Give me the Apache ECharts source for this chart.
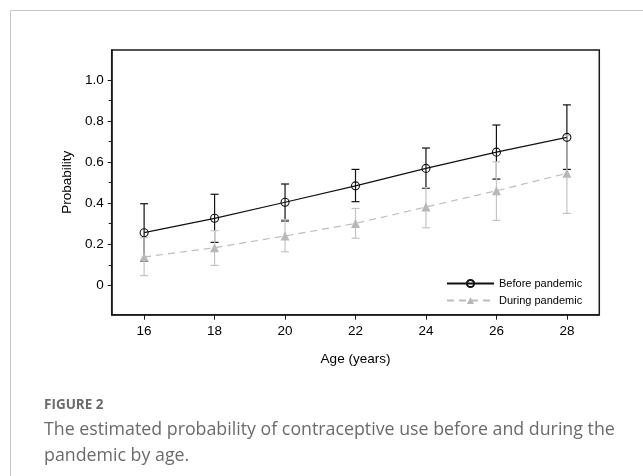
<!DOCTYPE html>
<html>
<head>
<meta charset="utf-8">
<script src="https://cdn.jsdelivr.net/npm/echarts@6/dist/echarts.min.js"></script>
<style>
html,body{margin:0;padding:0;background:#fff;}
#chart{width:643px;height:476px;}
</style>
</head>
<body>
<div id="chart"></div>
<script>
const ages = [16, 18, 20, 22, 24, 26, 28];
const beforeMean = [0.256, 0.326, 0.404, 0.484, 0.569, 0.648, 0.720];
const beforeLow  = [0.118, 0.209, 0.313, 0.407, 0.472, 0.517, 0.564];
const beforeHigh = [0.397, 0.443, 0.493, 0.564, 0.668, 0.780, 0.878];
const duringMean = [0.138, 0.183, 0.240, 0.301, 0.381, 0.460, 0.545];
const duringLow  = [0.047, 0.097, 0.163, 0.229, 0.280, 0.316, 0.350];
const duringHigh = [0.232, 0.266, 0.320, 0.374, 0.475, 0.601, 0.730];
const xTicks = [16, 18, 20, 22, 24, 26, 28];
const yTicks = [0, 0.2, 0.4, 0.6, 0.8, 1.0];
const yMinorTicks = [0.1, 0.3, 0.5, 0.7, 0.9];
const seriesNames = ['Before pandemic', 'During pandemic'];
const captionLabel = 'FIGURE 2';
const captionLines = ['The estimated probability of contraceptive use before and during the', 'pandemic by age.'];

const FONT = 'Liberation Sans, Arial, sans-serif';
const chart = echarts.init(document.getElementById('chart'), null, {renderer: 'canvas'});

function errData(low, high) {
  return ages.map((a, i) => [a, low[i], high[i]]);
}
function errRender(color) {
  return function (params, api) {
    const x = api.value(0);
    const p1 = api.coord([x, api.value(1)]);
    const p2 = api.coord([x, api.value(2)]);
    const hw = 4;
    const st = {stroke: color, lineWidth: 1.2};
    return {
      type: 'group',
      children: [
        {type: 'line', shape: {x1: p1[0], y1: p1[1], x2: p2[0], y2: p2[1]}, style: st},
        {type: 'line', shape: {x1: p1[0] - hw, y1: p1[1], x2: p1[0] + hw, y2: p1[1]}, style: st},
        {type: 'line', shape: {x1: p2[0] - hw, y1: p2[1], x2: p2[0] + hw, y2: p2[1]}, style: st}
      ]
    };
  };
}

const option = {
  animation: false,
  backgroundColor: '#fff',
  grid: {
    left: 111.7, top: 50, right: 43.7, bottom: 161.3,
    show: true, borderColor: '#1a1a1a', borderWidth: 1.5, backgroundColor: 'transparent'
  },
  xAxis: {
    type: 'value', min: 15.08, max: 28.92,
    name: 'Age (years)', nameLocation: 'middle', nameGap: 38,
    nameTextStyle: {fontFamily: FONT, fontSize: 13.5, color: '#000'},
    axisLine: {show: true, onZero: false, lineStyle: {color: '#1a1a1a', width: 1.5}},
    axisTick: {show: true, length: 5, customValues: xTicks, lineStyle: {color: '#1a1a1a'}},
    axisLabel: {customValues: xTicks, fontFamily: FONT, fontSize: 13.5, color: '#000', margin: 10},
    splitLine: {show: false}
  },
  yAxis: [{
    type: 'value', min: -0.143, max: 1.145,
    name: 'Probability', nameLocation: 'middle', nameGap: 31, nameRotate: 90,
    nameTextStyle: {fontFamily: FONT, fontSize: 13.5, color: '#000'},
    axisLine: {show: true, onZero: false, lineStyle: {color: '#1a1a1a', width: 1.5}},
    axisTick: {show: true, length: 4, customValues: yTicks, lineStyle: {color: '#1a1a1a'}},
    axisLabel: {
      customValues: yTicks, fontFamily: FONT, fontSize: 13.5, color: '#000', margin: 8,
      formatter: v => (Math.abs(v) < 1e-9 ? '0' : v.toFixed(1))
    },
    splitLine: {show: false}
  }, {
    type: 'value', min: -0.143, max: 1.145, position: 'left',
    axisLine: {show: false, onZero: false},
    axisTick: {show: true, length: 3, customValues: yMinorTicks, lineStyle: {color: '#1a1a1a'}},
    axisLabel: {show: false},
    splitLine: {show: false}
  }],
  legend: {
    data: seriesNames,
    orient: 'vertical', left: 441, top: 273,
    itemWidth: 47, itemHeight: 9, itemGap: 6,
    textStyle: {fontFamily: FONT, fontSize: 11, color: '#000'}
  },
  series: [
    {
      name: 'beforeErr', type: 'custom', z: 1,
      renderItem: errRender('#111'),
      data: errData(beforeLow, beforeHigh), encode: {x: 0, y: [1, 2]}
    },
    {
      name: 'duringErr', type: 'custom', z: 2,
      renderItem: errRender('#c4c4c4'),
      data: errData(duringLow, duringHigh), encode: {x: 0, y: [1, 2]}
    },
    {
      name: seriesNames[1], type: 'line', z: 3,
      data: ages.map((a, i) => [a, duringMean[i]]),
      symbol: 'triangle', symbolSize: 9,
      lineStyle: {color: '#bdbdbd', width: 1.2, type: [7, 5]},
      itemStyle: {color: '#b8b8b8'}
    },
    {
      name: seriesNames[0], type: 'line', z: 4,
      data: ages.map((a, i) => [a, beforeMean[i]]),
      symbol: 'circle', symbolSize: 8,
      lineStyle: {color: '#111', width: 1.2},
      itemStyle: {color: 'rgba(255,255,255,0)', borderColor: '#111', borderWidth: 1.1}
    }
  ],
  graphic: [
    {type: 'line', shape: {x1: 10.5, y1: 10.5, x2: 643, y2: 10.5}, style: {stroke: '#c8c8c8', lineWidth: 1}},
    {type: 'line', shape: {x1: 10.5, y1: 10.5, x2: 10.5, y2: 476}, style: {stroke: '#c8c8c8', lineWidth: 1}},
    {type: 'text', style: {x: 44, y: 405, text: captionLabel, fill: '#6b6b6b', fontFamily: 'Open Sans, sans-serif', fontWeight: 'bold', fontSize: 13.5, textVerticalAlign: 'middle'}},
    {type: 'text', style: {x: 44, y: 430, text: captionLines[0], fill: '#6b6b6b', fontFamily: 'Open Sans, sans-serif', fontSize: 17.8, textVerticalAlign: 'middle'}},
    {type: 'text', style: {x: 44, y: 456, text: captionLines[1], fill: '#6b6b6b', fontFamily: 'Open Sans, sans-serif', fontSize: 17.8, textVerticalAlign: 'middle'}}
  ]
};
chart.setOption(option);
</script>
</body>
</html>
